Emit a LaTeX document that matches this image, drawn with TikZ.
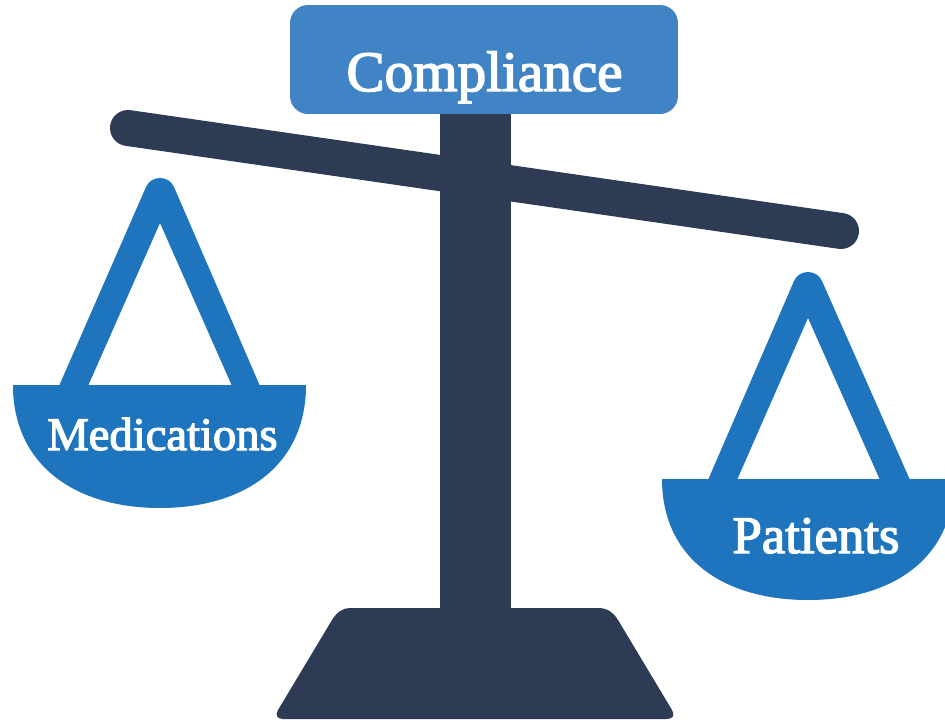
\documentclass[tikz,border=0pt]{standalone}
\usepackage{fontspec}
\setmainfont{Liberation Serif}
\newfontfamily\labelfont[FakeBold=2.6]{Liberation Serif}
\definecolor{navy}{HTML}{2D3B55}
\definecolor{panblue}{HTML}{1F75BD}
\definecolor{boxblue}{HTML}{4084C6}
\begin{document}
\begin{tikzpicture}[x=0.02cm,y=-0.02cm,inner sep=0pt,outer sep=0pt,
panlabel/.style={text=white,anchor=base},
titlebox/.style={fill=boxblue,rectangle,rounded corners=0.36cm,minimum width=7.76cm,minimum height=2.18cm}]
\useasboundingbox (0,0) rectangle (945,719);
\clip (0,0) rectangle (945,719);
% beam and stand
\coordinate (beamL) at (128,128);
\coordinate (beamR) at (841,231);
\draw[navy,line width=0.72cm,line cap=round] (beamL) -- (beamR);
\fill[navy] (440,100) rectangle (511,620);
\fill[navy] (350,608) -- (598,608) .. controls (607,608) and (613,612) .. (618,620) -- (672,710) .. controls (675,715) and (673,719) .. (667,719) -- (283,719) .. controls (277,719) and (275,715) .. (278,710) -- (332,620) .. controls (337,612) and (343,608) .. (350,608) -- cycle;
% left pan
\fill[panblue,even odd rule] (59,386) -- (146,187) .. controls (151,175) and (169,175) .. (174,187) -- (260,386) -- cycle (88,386) -- (160,223) -- (232,386) -- cycle;
\fill[panblue] (13,385) -- (306,385) .. controls (306,465) and (245,508) .. (160,508) .. controls (75,508) and (13,465) .. (13,385) -- cycle;
% right pan
\fill[panblue,even odd rule] (708,480) -- (794,281) .. controls (799,269) and (817,269) .. (822,281) -- (910,480) -- cycle (737,480) -- (808,318) -- (880,480) -- cycle;
\fill[panblue] (662,479) -- (954,479) .. controls (954,558) and (893,600) .. (808,600) .. controls (723,600) and (662,558) .. (662,479) -- cycle;
\draw (484,59.5) node[titlebox] (compliance) {};
\draw (484.5,91) node[panlabel,font=\fontsize{32.5}{34}\selectfont\labelfont] (complianceText) {Compliance};
\draw (162.5,450) node[panlabel,font=\fontsize{26.5}{28}\selectfont\labelfont] (medications) {Medications};
\draw (816,553) node[panlabel,font=\fontsize{30}{32}\selectfont\labelfont] (patients) {Patients};
\end{tikzpicture}
\end{document}
